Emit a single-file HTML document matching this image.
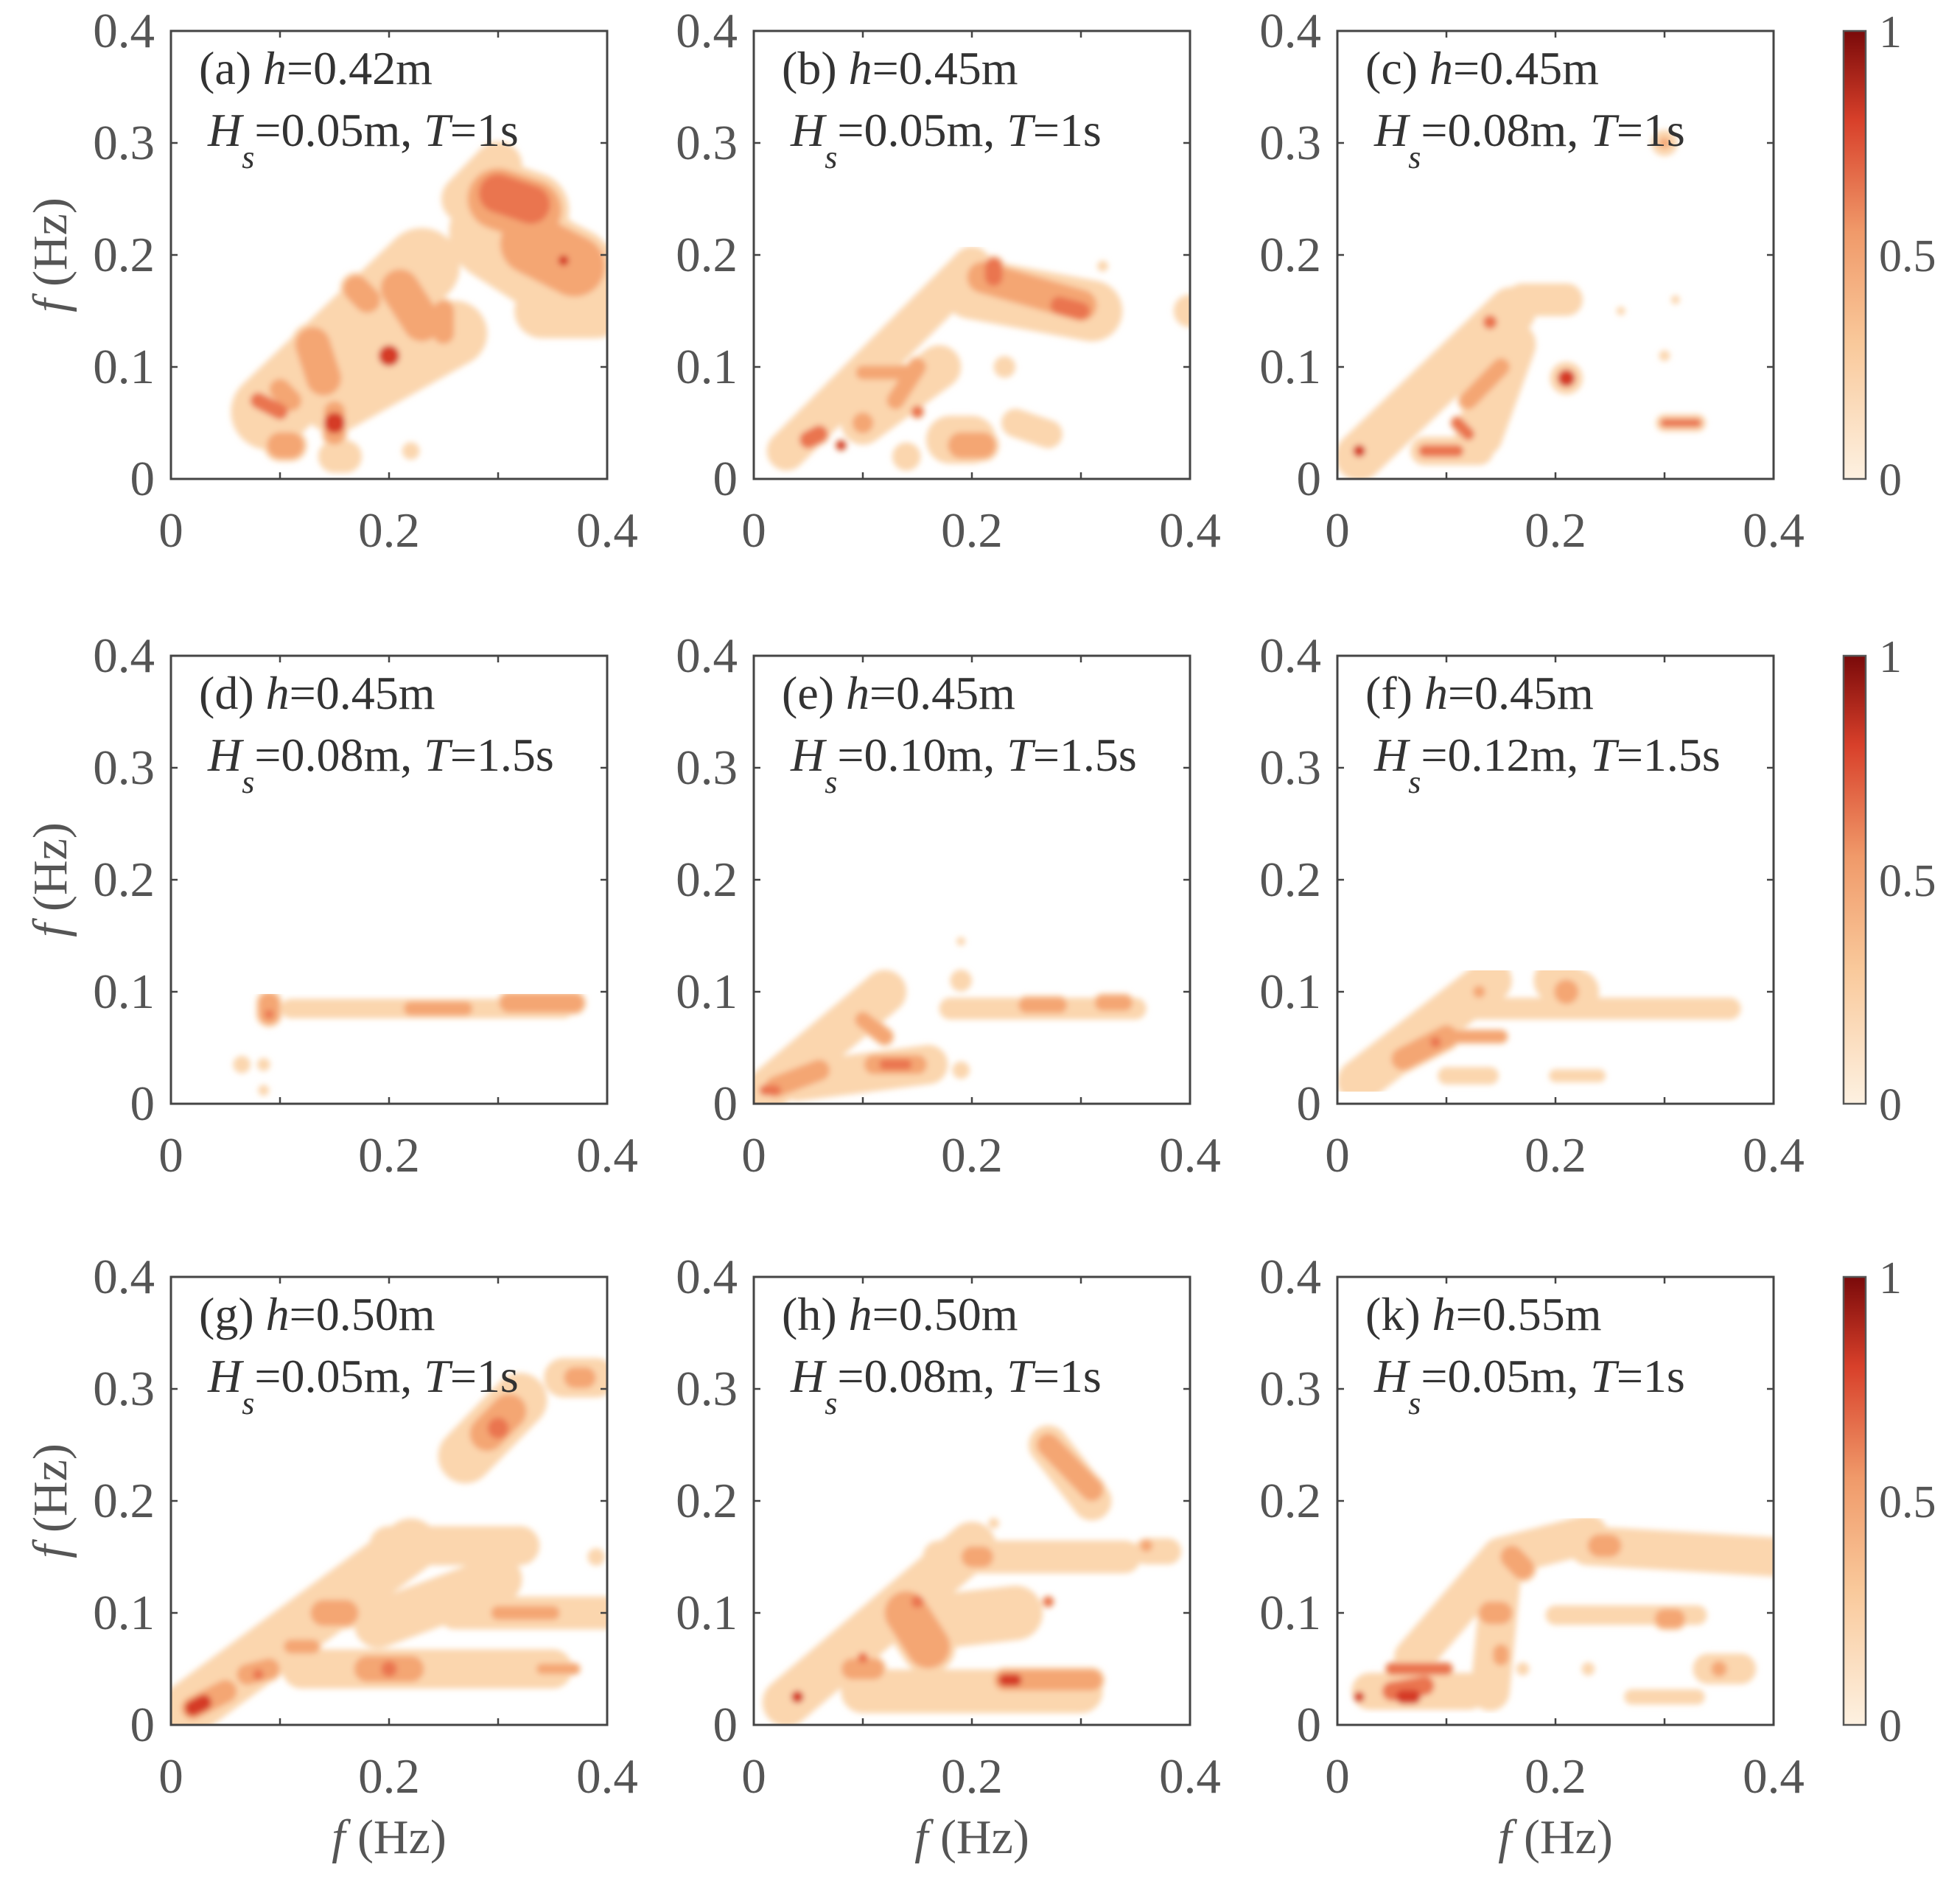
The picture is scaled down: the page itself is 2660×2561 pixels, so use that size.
<!DOCTYPE html>
<html><head><meta charset="utf-8"><style>
html,body{margin:0;padding:0;background:#fff;}
svg{display:block;font-family:"Liberation Serif",serif;}
</style></head><body>
<svg id="fig" width="2660" height="2561" viewBox="0 0 2660 2561" xmlns="http://www.w3.org/2000/svg">
<defs>
<filter id="blur" x="-10%" y="-10%" width="120%" height="120%"><feGaussianBlur stdDeviation="4"/></filter>
<linearGradient id="cbgrad" x1="0" y1="1" x2="0" y2="0">
<stop offset="0" stop-color="#fdf1e1"/><stop offset="0.3" stop-color="#f9c99b"/><stop offset="0.55" stop-color="#f09a6a"/><stop offset="0.8" stop-color="#d8402a"/><stop offset="1" stop-color="#7a0a0a"/>
</linearGradient>
</defs>
</svg>
<script>
// Contour-level colours (0.2, 0.4, 0.6, 0.8)
const levelColors = ["#fbd6ae", "#f4a673", "#ea7450", "#d53a26"];
const panelLabels = ["(a)","(b)","(c)","(d)","(e)","(f)","(g)","(h)","(k)"];
const panelDepth = ["0.42","0.45","0.45","0.45","0.45","0.45","0.50","0.50","0.55"];
const panelHs = ["0.05","0.05","0.08","0.08","0.10","0.12","0.05","0.08","0.05"];
const panelT = ["1","1","1","1.5","1.5","1.5","1","1","1"];
const tickValues = [0, 0.1, 0.2, 0.3, 0.4];
const xTickLabels = ["0", "0.2", "0.4"];
const cbTicks = [0, 0.5, 1];
// blobs: [x1, y1, x2, y2, radius, level]  (Hz units, level 1..4)
const blobsA = [[0.27,0.25,0.3,0.28,0.022,1],[0.3,0.22,0.38,0.17,0.045,1],[0.34,0.15,0.39,0.15,0.025,1],
 [0.09,0.06,0.23,0.19,0.035,1],[0.15,0.07,0.26,0.13,0.03,1],[0.15,0.02,0.16,0.02,0.015,1],[0.22,0.025,0.22,0.025,0.008,1],
 [0.3,0.25,0.33,0.24,0.035,2],[0.33,0.21,0.37,0.19,0.035,2],[0.21,0.17,0.23,0.14,0.022,2],[0.13,0.12,0.14,0.09,0.02,2],[0.17,0.17,0.18,0.16,0.015,2],[0.25,0.15,0.25,0.13,0.012,2],[0.1,0.08,0.11,0.07,0.012,2],[0.1,0.03,0.11,0.03,0.015,2],[0.15,0.06,0.15,0.04,0.012,2],
 [0.3,0.255,0.33,0.245,0.022,3],[0.2,0.11,0.2,0.11,0.012,4],[0.08,0.07,0.1,0.06,0.009,3],[0.15,0.05,0.15,0.05,0.012,4],[0.36,0.195,0.36,0.195,0.006,4]];
const blobsB = [[0.03,0.025,0.2,0.19,0.018,1],[0.2,0.17,0.31,0.15,0.028,1],[0.4,0.15,0.4,0.15,0.015,1],[0.1,0.05,0.17,0.1,0.02,1],[0.18,0.035,0.2,0.035,0.022,1],[0.24,0.05,0.27,0.04,0.013,1],[0.32,0.19,0.32,0.19,0.005,1],[0.23,0.1,0.23,0.1,0.01,1],[0.14,0.02,0.14,0.02,0.013,1],
 [0.21,0.18,0.3,0.155,0.018,2],[0.19,0.03,0.21,0.03,0.015,2],[0.1,0.05,0.1,0.05,0.012,2],[0.13,0.07,0.15,0.1,0.01,2],[0.1,0.095,0.14,0.095,0.008,2],
 [0.22,0.19,0.22,0.18,0.01,3],[0.28,0.155,0.3,0.15,0.01,3],[0.05,0.035,0.06,0.04,0.01,3],[0.08,0.03,0.08,0.03,0.006,4],[0.15,0.06,0.15,0.06,0.007,3]];
const blobsC = [[0.3,0.3,0.3,0.3,0.012,1],[0.02,0.02,0.16,0.15,0.022,1],[0.17,0.16,0.21,0.16,0.015,1],[0.13,0.04,0.16,0.12,0.022,1],[0.08,0.025,0.13,0.025,0.013,1],[0.3,0.05,0.33,0.05,0.008,1],[0.3,0.11,0.3,0.11,0.005,1],[0.31,0.16,0.31,0.16,0.004,1],[0.26,0.15,0.26,0.15,0.004,1],[0.21,0.09,0.21,0.09,0.015,1],
 [0.3,0.3,0.3,0.3,0.006,2],[0.12,0.07,0.15,0.1,0.01,2],[0.14,0.14,0.14,0.14,0.008,3],[0.21,0.09,0.21,0.09,0.01,4],[0.02,0.025,0.02,0.025,0.007,4],[0.08,0.025,0.11,0.025,0.007,3],[0.3,0.05,0.33,0.05,0.005,3],[0.11,0.05,0.12,0.04,0.007,3]];
const blobsD = [[0.09,0.08,0.09,0.09,0.012,2],[0.065,0.035,0.065,0.035,0.008,1],[0.085,0.035,0.085,0.035,0.006,1],[0.085,0.012,0.085,0.012,0.005,1],[0.11,0.085,0.36,0.085,0.009,1],[0.22,0.085,0.27,0.085,0.008,2],[0.31,0.09,0.37,0.09,0.011,2],[0.09,0.08,0.09,0.08,0.005,3]];
const blobsE = [[0.01,0.01,0.12,0.1,0.02,1],[0.04,0.02,0.16,0.035,0.018,1],[0.19,0.11,0.19,0.11,0.01,1],[0.19,0.145,0.19,0.145,0.004,1],[0.18,0.085,0.35,0.085,0.01,1],[0.19,0.03,0.19,0.03,0.008,1],
 [0.02,0.015,0.06,0.03,0.012,2],[0.11,0.035,0.15,0.035,0.011,2],[0.1,0.075,0.12,0.06,0.009,2],[0.25,0.088,0.28,0.088,0.009,2],[0.32,0.09,0.34,0.09,0.009,2],
 [0.01,0.012,0.02,0.012,0.006,3],[0.12,0.035,0.14,0.035,0.006,3]];
const blobsF = [[0.02,0.02,0.14,0.11,0.02,1],[0.1,0.085,0.36,0.085,0.01,1],[0.2,0.11,0.22,0.1,0.02,1],[0.1,0.025,0.14,0.025,0.008,1],[0.2,0.025,0.24,0.025,0.006,1],
 [0.06,0.04,0.1,0.06,0.013,2],[0.11,0.06,0.15,0.06,0.007,2],[0.21,0.1,0.21,0.1,0.014,2],[0.13,0.1,0.13,0.1,0.007,2],[0.09,0.055,0.09,0.055,0.006,3]];
const blobsG = [[0.27,0.24,0.32,0.29,0.025,1],[0.36,0.31,0.39,0.31,0.018,1],[0.01,0.01,0.22,0.16,0.025,1],[0.2,0.16,0.32,0.16,0.018,1],[0.12,0.05,0.35,0.05,0.018,1],[0.26,0.1,0.4,0.1,0.015,1],[0.19,0.09,0.3,0.13,0.022,1],[0.39,0.15,0.39,0.15,0.008,1],
 [0.29,0.26,0.31,0.28,0.02,2],[0.37,0.31,0.38,0.31,0.012,2],[0.02,0.015,0.05,0.03,0.013,2],[0.07,0.045,0.09,0.05,0.012,2],[0.14,0.1,0.16,0.1,0.015,2],[0.11,0.07,0.13,0.07,0.008,2],[0.18,0.05,0.22,0.05,0.015,2],[0.3,0.1,0.35,0.1,0.008,2],[0.34,0.05,0.37,0.05,0.006,2],
 [0.3,0.265,0.3,0.265,0.012,3],[0.02,0.015,0.03,0.02,0.009,4],[0.2,0.05,0.2,0.05,0.009,3],[0.08,0.045,0.08,0.045,0.006,3]];
const blobsH = [[0.27,0.25,0.31,0.2,0.018,1],[0.03,0.02,0.2,0.16,0.022,1],[0.17,0.15,0.34,0.15,0.015,1],[0.1,0.03,0.3,0.03,0.02,1],[0.15,0.09,0.24,0.1,0.025,1],[0.36,0.155,0.38,0.155,0.012,1],[0.22,0.18,0.22,0.18,0.005,1],
 [0.27,0.25,0.31,0.21,0.013,2],[0.2,0.15,0.21,0.15,0.012,2],[0.14,0.1,0.16,0.07,0.025,2],[0.09,0.05,0.11,0.05,0.012,2],[0.23,0.04,0.31,0.04,0.012,2],[0.36,0.16,0.36,0.16,0.007,2],[0.27,0.11,0.27,0.11,0.006,3],
 [0.04,0.025,0.04,0.025,0.007,4],[0.15,0.11,0.15,0.11,0.007,3],[0.23,0.04,0.24,0.04,0.007,4],[0.1,0.06,0.1,0.06,0.006,3]];
const blobsK = [[0.07,0.06,0.15,0.15,0.018,1],[0.15,0.15,0.23,0.17,0.018,1],[0.23,0.16,0.4,0.15,0.018,1],[0.14,0.03,0.15,0.13,0.018,1],[0.2,0.098,0.33,0.098,0.009,1],[0.03,0.03,0.12,0.03,0.017,1],[0.34,0.05,0.37,0.05,0.014,1],[0.27,0.025,0.33,0.025,0.007,1],[0.17,0.05,0.17,0.05,0.006,1],[0.23,0.05,0.23,0.05,0.006,1],
 [0.16,0.15,0.17,0.14,0.013,2],[0.14,0.1,0.15,0.1,0.013,2],[0.15,0.065,0.15,0.06,0.009,2],[0.24,0.16,0.25,0.16,0.013,2],[0.3,0.095,0.31,0.095,0.011,2],[0.35,0.05,0.35,0.05,0.009,2],
 [0.05,0.03,0.08,0.035,0.011,3],[0.05,0.05,0.1,0.05,0.007,3],[0.02,0.025,0.02,0.025,0.006,4],[0.06,0.025,0.07,0.025,0.008,4]];
const panelBlobs = [blobsA,blobsB,blobsC,blobsD,blobsE,blobsF,blobsG,blobsH,blobsK];

const svg = document.getElementById('fig');
const NS = "http://www.w3.org/2000/svg";
const colX = [232, 1023, 1815], rowY = [42, 890, 1733];
const PW = 592, PH = 608, FMAX = 0.4;
function mk(tag, attrs, parent){const e=document.createElementNS(NS,tag);for(const k in attrs)e.setAttribute(k,attrs[k]);(parent||svg).appendChild(e);return e;}

for (let p = 0; p < 9; p++) {
  const r = Math.floor(p/3), c = p%3;
  const x0 = colX[c], y0 = rowY[r];
  const sx = v => x0 + v/FMAX*PW;
  const sy = v => y0 + PH - v/FMAX*PH;
  const g = mk('g', {});
  
  
  const cp = mk('clipPath', {id:'clip'+p}, g);
  mk('rect', {x:x0, y:y0, width:PW, height:PH}, cp);
  const hm = mk('g', {'clip-path':'url(#clip'+p+')'}, g);
  
  
  const inner = mk('g', {filter:'url(#blur)'}, hm);
  for (let lv = 1; lv <= 4; lv++) {
    panelBlobs[p].forEach(b => {
      if (b[5] < lv) return;
      const rr = b[5] === lv ? b[4]*(lv===1?1:0.8) : b[4] - (lv-1)*0.004;
      if (rr <= 0.002) return;
      const l = mk('line', {x1:sx(b[0]), y1:sy(b[1]), x2:sx(b[2]), y2:sy(b[3]),
        stroke:levelColors[lv-1], 'stroke-width': 2*rr/FMAX*PW, 'stroke-linecap':'round'}, inner);
      
      
    });
  }
  const frame = mk('rect', {x:x0, y:y0, width:PW, height:PH, fill:'none', stroke:'#444', 'stroke-width':3}, g);
  
  
  tickValues.forEach(v => {
    mk('line', {x1:sx(v), y1:y0+PH, x2:sx(v), y2:y0+PH-9, stroke:'#444','stroke-width':2.5}, g);
    mk('line', {x1:sx(v), y1:y0, x2:sx(v), y2:y0+9, stroke:'#444','stroke-width':2.5}, g);
    mk('line', {x1:x0, y1:sy(v), x2:x0+9, y2:sy(v), stroke:'#444','stroke-width':2.5}, g);
    mk('line', {x1:x0+PW, y1:sy(v), x2:x0+PW-9, y2:sy(v), stroke:'#444','stroke-width':2.5}, g);
    const t = mk('text', {x:x0-22, y:sy(v)+22, 'text-anchor':'end', 'font-size':67, fill:'#555'}, g);
    t.textContent = v === 0 ? '0' : v.toFixed(1);
    
    
  });
  xTickLabels.forEach(s => {
    const t = mk('text', {x:sx(parseFloat(s)), y:y0+PH+92, 'text-anchor':'middle', 'font-size':67, fill:'#555'}, g);
    t.textContent = s;
    
    
  });
  const t1 = mk('text', {x:x0+38, y:y0+72, 'font-size':64, fill:'#333'}, g);
  t1.innerHTML = panelLabels[p] + ' <tspan font-style="italic">h</tspan>=' + panelDepth[p] + 'm';
  
  
  const t2 = mk('text', {x:x0+50, y:y0+156, 'font-size':64, fill:'#333'}, g);
  t2.innerHTML = '<tspan font-style="italic">H</tspan><tspan font-style="italic" font-size="44" dy="30">s</tspan><tspan dy="-30">=' + panelHs[p] + 'm, </tspan><tspan font-style="italic">T</tspan>=' + panelT[p] + 's';
  
  
  if (c === 0) {
    const yl = mk('text', {x:0, y:0, 'font-size':66, fill:'#555', 'text-anchor':'middle', transform:'translate(90,'+(y0+PH/2)+') rotate(-90)'}, g);
    yl.innerHTML = '<tspan font-style="italic">f</tspan> (Hz)';
    
    
  }
  if (r === 2) {
    const xl = mk('text', {x:x0+PW/2, y:2515, 'font-size':66, fill:'#555', 'text-anchor':'middle'}, g);
    xl.innerHTML = '<tspan font-style="italic">f</tspan> (Hz)';
    
    
  }
  if (c === 2) {
    const cb = mk('g', {}, svg);
    
    
    mk('rect', {x:2502, y:y0, width:30, height:PH, fill:'url(#cbgrad)', stroke:'#555','stroke-width':2.5}, cb);
    cbTicks.forEach(v => {
      const ty = y0 + PH - v*PH;
      const t = mk('text', {x:2550, y:ty+22, 'font-size':62, fill:'#555'}, cb);
      t.textContent = String(v);
      
      
    });
  }
}
</script>
</body></html>
